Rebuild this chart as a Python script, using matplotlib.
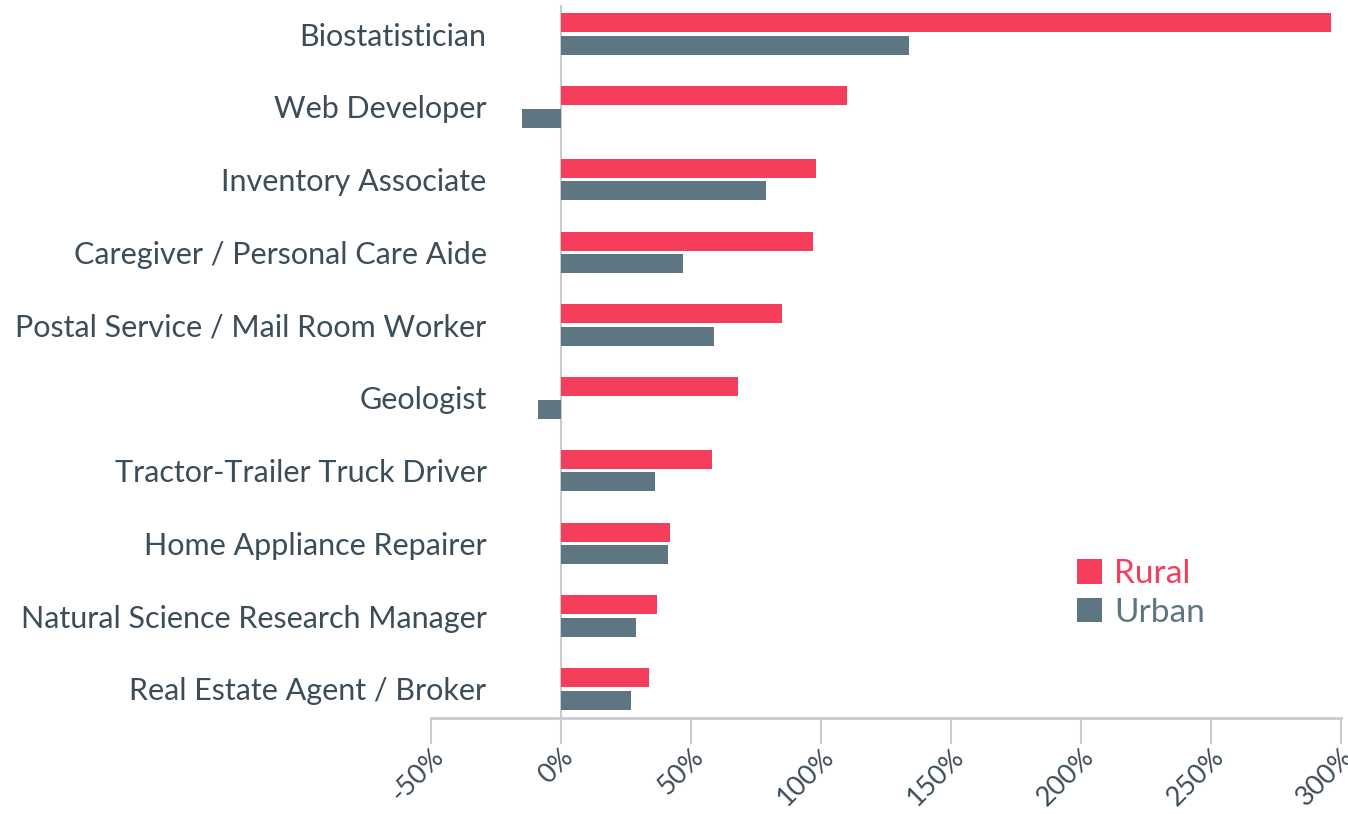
import matplotlib.pyplot as plt
import numpy as np

plt.rcParams['font.family'] = ['Lato', 'DejaVu Sans']

jobs = ["Biostatistician", "Web Developer", "Inventory Associate",
        "Caregiver / Personal Care Aide", "Postal Service / Mail Room Worker",
        "Geologist", "Tractor-Trailer Truck Driver", "Home Appliance Repairer",
        "Natural Science Research Manager", "Real Estate Agent / Broker"]
rural = [296, 110, 98, 97, 85, 68, 58, 42, 37, 34]
urban = [134, -15, 79, 47, 59, -9, 36, 41, 29, 27]
ticks = [-50, 0, 50, 100, 150, 200, 250, 300]

red = "#f53d5c"
slate = "#5e7682"
text = "#3b4d59"
grey = "#c8ccd0"

fig = plt.figure(figsize=(13.48, 8.14), dpi=100)
ax = fig.add_axes([431/1348, 1 - 718/814, 910/1348, 713/814])

y = np.arange(len(jobs))
ax.barh(y - 0.155, rural, height=0.26, color=red, label="Rural")
ax.barh(y + 0.155, urban, height=0.26, color=slate, label="Urban")

ax.set_xlim(-50, 300)
ax.set_ylim(9.4, -0.4)
ax.axvline(0, color=grey, lw=1.5, zorder=0)

for s in ["top", "right", "left"]:
    ax.spines[s].set_visible(False)
ax.spines["bottom"].set_color(grey)
ax.spines["bottom"].set_linewidth(2)

ax.set_yticks(y)
ax.set_yticklabels(jobs, fontsize=22, color=text)
ax.tick_params(axis="y", length=0, pad=-40)

ax.set_xticks(ticks)
ax.set_xticklabels([f"{t}%" for t in ticks], rotation=45, ha="right",
                   rotation_mode="anchor", fontsize=19.5, color=text)
ax.tick_params(axis="x", length=19, width=1.5, color=grey, pad=0)

leg = ax.legend(loc="upper left", bbox_to_anchor=(0.692, 0.246), frameon=False,
                fontsize=24, handlelength=0.75, handleheight=0.75, borderpad=0,
                handletextpad=0.35, labelspacing=0.25)
for t, c in zip(leg.get_texts(), [red, slate]):
    t.set_color(c)

fig.savefig("out.png", dpi=100)
